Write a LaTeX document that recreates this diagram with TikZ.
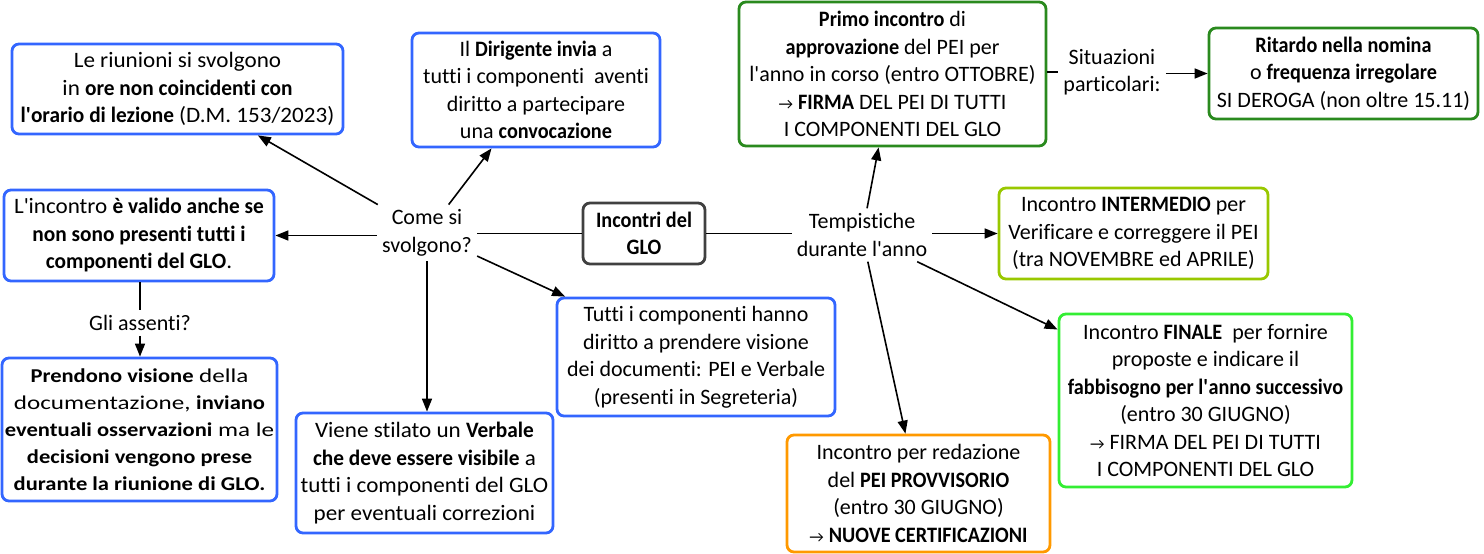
\documentclass[tikz,border=0pt]{standalone}
\usepackage{fontspec}
\setmainfont{Carlito}[Ligatures=NoCommon, BoldFeatures={FakeStretch=0.92}]
\newfontfamily\fwide{Carlito}[Ligatures=NoCommon, FakeStretch=1.05, BoldFeatures={FakeStretch=0.97}]
\newfontfamily\fwider{Carlito}[Ligatures=NoCommon, FakeStretch=1.28, BoldFeatures={FakeStretch=1.15}]
\usetikzlibrary{arrows.meta}
\definecolor{cblue}{HTML}{3366FF}
\definecolor{cdgreen}{HTML}{2A8A1E}
\definecolor{cygreen}{HTML}{99C800}
\definecolor{cbgreen}{HTML}{33EE33}
\definecolor{corange}{HTML}{FF9900}
\definecolor{cgray}{HTML}{404040}
\newcommand{\myarr}{{\fontsize{16}{16}\selectfont →}}
\newcommand{\ap}{\XeTeXglyph\XeTeXcharglyph"27\relax}
\tikzset{
  box/.style={draw=#1, line width=2.8pt, rounded corners=7pt, fill=white, align=center,
    font=\fontsize{22}{27.5}\selectfont, inner sep=1pt},
  wtext/.style={font=\fontsize{22}{27.5}\selectfont\fwide},
  wwtext/.style={font=\fontsize{19.6}{27}\selectfont\fwider},
  lbl/.style={align=center, font=\fontsize{22}{27.5}\selectfont, inner sep=5pt},
  conn/.style={line width=1.6pt, draw=black},
  arr/.style={conn, -{Triangle[length=13pt,width=10pt]}},
}
\begin{document}
\begin{tikzpicture}[x=1pt,y=-1pt]
\useasboundingbox (0,0) rectangle (1484,554);
% boxes
\node[box=cblue, wtext, minimum width=331pt, minimum height=90pt] (b1) at (177.5,89)
  {Le riunioni si svolgono\\in \textbf{ore non coincidenti con}\\\textbf{l\ap orario di lezione} (D.M. 153/2023)};
\node[box=cblue, minimum width=248pt, minimum height=114pt] (b2) at (536,90)
  {Il \textbf{Dirigente invia} a\\tutti i componenti~ aventi\\diritto a partecipare\\una \textbf{convocazione}};
\node[box=cblue, wtext, minimum width=270pt, minimum height=91pt] (b3) at (139,235.5)
  {L\ap incontro \textbf{è valido anche se}\\\textbf{non sono presenti tutti i}\\\textbf{componenti del GLO}.};
\node[box=cblue, wwtext, minimum width=275pt, minimum height=143pt] (b4) at (139.5,429.5)
  {\textbf{Prendono visione} della\\documentazione, \textbf{inviano}\\\textbf{eventuali osservazioni} ma le\\\textbf{decisioni vengono prese}\\\textbf{durante la riunione di GLO.}};
\node[box=cblue, wtext, minimum width=257pt, minimum height=120pt] (b5) at (424.5,473)
  {Viene stilato un \textbf{Verbale}\\\textbf{che deve essere visibile} a\\tutti i componenti del GLO\\per eventuali correzioni};
\node[box=cblue, minimum width=278pt, minimum height=118pt] (b6) at (696,357)
  {Tutti i componenti hanno\\diritto a prendere visione\\dei documenti: PEI e Verbale\\(presenti in Segreteria)};
\node[box=cgray, minimum width=122pt, minimum height=61pt] (glo) at (644,233.5)
  {\textbf{Incontri del}\\\textbf{GLO}};
\node[box=cdgreen, minimum width=307pt, minimum height=144pt] (b8) at (892.5,74)
  {\textbf{Primo incontro} di\\\textbf{approvazione} del PEI per\\l\ap anno in corso (entro OTTOBRE)\\\myarr{} \textbf{FIRMA} DEL PEI DI TUTTI\\I COMPONENTI DEL GLO};
\node[box=cdgreen, minimum width=269pt, minimum height=91pt] (b9) at (1343.5,73.5)
  {\textbf{Ritardo nella nomina}\\o \textbf{frequenza irregolare}\\SI DEROGA (non oltre 15.11)};
\node[box=cygreen, minimum width=269pt, minimum height=91pt] (b10) at (1133.5,233.5)
  {Incontro \textbf{INTERMEDIO} per\\Verificare e correggere il PEI\\(tra NOVEMBRE ed APRILE)};
\node[box=cbgreen, minimum width=293pt, minimum height=173pt] (b11) at (1205.5,400.5)
  {Incontro \textbf{FINALE}~ per fornire\\proposte e indicare il\\\textbf{fabbisogno per l\ap anno successivo}\\(entro 30 GIUGNO)\\\myarr{} FIRMA DEL PEI DI TUTTI\\I COMPONENTI DEL GLO};
\node[box=corange, minimum width=263pt, minimum height=117pt] (b12) at (918.5,493.5)
  {Incontro per redazione\\del \textbf{PEI PROVVISORIO}\\(entro 30 GIUGNO)\\\myarr{} \textbf{NUOVE CERTIFICAZIONI}};
% labels
\node[lbl] (cs) at (427,233) {Come si\\svolgono?};
\node[lbl] (tp) at (862,235) {Tempistiche\\durante l\ap anno};
\node[lbl] (ga) at (140,323) {Gli assenti?};
\node[lbl] (sit) at (1112,72) {Situazioni\\particolari:};
% connectors
\draw[conn] (glo.west) -- (cs.east |- glo.west);
\draw[conn] (glo.east) -- (tp.west |- glo.east);
\draw[arr] (cs.west |- b3.east) -- (b3.east);
\draw[arr] (cs) -- (b1);
\draw[arr] (cs) -- (b2);
\draw[arr] (cs.south) -- (cs.south |- b5.north);
\draw[arr] (cs) -- (b6);
\draw[conn] (b3.south -| ga.north) -- (ga.north);
\draw[arr] (ga.south) -- (ga.south |- b4.north);
\draw[arr] (tp) -- (b8);
\draw[arr] (tp.east |- b10.west) -- (b10.west);
\draw[arr] (tp) -- (b11);
\draw[arr] (tp) -- (b12);
\draw[conn] (b8.east |- sit.west) -- (sit.west);
\draw[arr] (sit.east |- b9.west) -- (b9.west);
\end{tikzpicture}
\end{document}
